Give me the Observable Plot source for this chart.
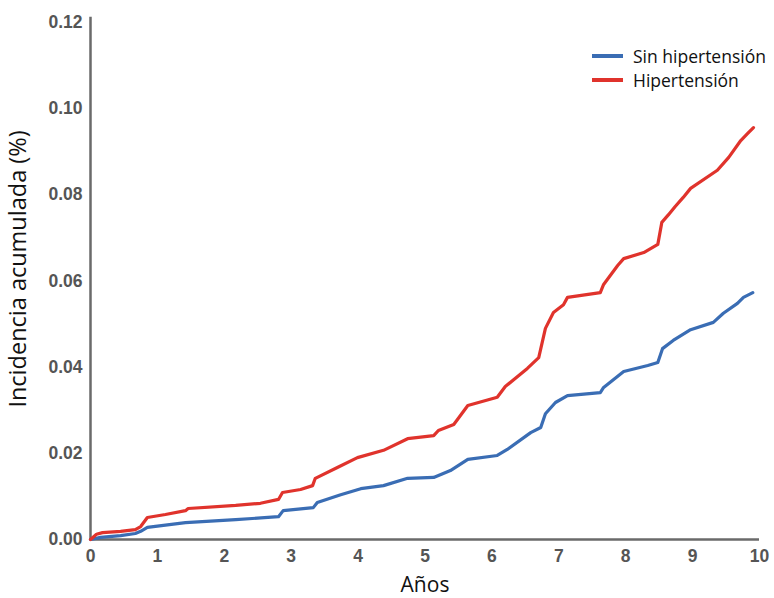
<!DOCTYPE html>
<html>
<head>
<meta charset="utf-8">
<script src="https://cdn.jsdelivr.net/npm/d3@7"></script>
<script src="https://cdn.jsdelivr.net/npm/@observablehq/plot@0.6"></script>
<style>
  body { margin: 0; background: #fff; }
  #wrap { position: relative; width: 774px; height: 598px; background: #fff; }
  #legend { position: absolute; left: 592px; top: 44px; font-family: "Open Sans", sans-serif; font-size: 17.5px; color: #111; line-height: 24px; }
  #legend .row { display: flex; align-items: center; white-space: nowrap; }
  #legend .sw { width: 31px; height: 3.5px; margin-right: 10px; }
</style>
</head>
<body>
<div id="wrap">
  <div id="chart"></div>
  <div id="legend"></div>
</div>
<script>
const seriesNames = ["Sin hipertensión", "Hipertensión"];
const seriesColors = ["#3a6db4", "#e0332c"];

const yearsSin = [0, 0.15, 0.45, 0.67, 0.75, 0.85, 1.42, 2.17, 2.81, 2.88, 3.33, 3.39, 3.74, 4.04, 4.38, 4.74, 5.13, 5.38, 5.64, 6.08, 6.23, 6.58, 6.73, 6.80, 6.95, 7.13, 7.62, 7.67, 7.97, 8.33, 8.48, 8.55, 8.71, 8.97, 9.31, 9.46, 9.67, 9.76, 9.90];
const incidSin = [0, 0.0005, 0.0009, 0.0014, 0.0019, 0.0028, 0.0039, 0.0046, 0.0053, 0.0067, 0.0074, 0.0086, 0.0104, 0.0118, 0.0125, 0.0142, 0.0144, 0.0160, 0.0186, 0.0195, 0.0209, 0.0248, 0.0260, 0.0292, 0.0318, 0.0334, 0.0341, 0.0353, 0.0390, 0.0404, 0.0411, 0.0443, 0.0462, 0.0487, 0.0504, 0.0525, 0.0548, 0.0562, 0.0573];

const yearsHip = [0, 0.09, 0.18, 0.45, 0.67, 0.75, 0.85, 1.12, 1.42, 1.46, 2.17, 2.54, 2.81, 2.87, 3.14, 3.32, 3.36, 3.69, 3.99, 4.38, 4.74, 5.13, 5.20, 5.43, 5.64, 6.08, 6.20, 6.53, 6.70, 6.80, 6.92, 7.07, 7.13, 7.62, 7.67, 7.88, 7.97, 8.27, 8.48, 8.54, 8.64, 8.74, 8.86, 8.97, 9.37, 9.54, 9.72, 9.82, 9.91];
const incidHip = [0, 0.0012, 0.0016, 0.0019, 0.0023, 0.0030, 0.0051, 0.0058, 0.0067, 0.0072, 0.0079, 0.0084, 0.0093, 0.0109, 0.0116, 0.0125, 0.0142, 0.0167, 0.0190, 0.0207, 0.0234, 0.0241, 0.0253, 0.0267, 0.0311, 0.0330, 0.0355, 0.0397, 0.0422, 0.0490, 0.0527, 0.0545, 0.0562, 0.0573, 0.0592, 0.0636, 0.0652, 0.0666, 0.0685, 0.0736, 0.0754, 0.0773, 0.0794, 0.0815, 0.0857, 0.0887, 0.0926, 0.0942, 0.0956];

const xTicks = [0, 1, 2, 3, 4, 5, 6, 7, 8, 9, 10];
const yTicks = [0, 0.02, 0.04, 0.06, 0.08, 0.10, 0.12];
const xLabel = "Años";
const yLabel = "Incidencia acumulada (%)";

const sinData = yearsSin.map((t, i) => ({t, v: incidSin[i]}));
const hipData = yearsHip.map((t, i) => ({t, v: incidHip[i]}));

const tickFont = {fontFamily: "'Liberation Sans', Arial, sans-serif", fontSize: 17.5, fontWeight: "bold", fill: "#555"};

const chart = Plot.plot({
  width: 774,
  height: 598,
  marginLeft: 90,
  marginRight: 15,
  marginTop: 22,
  marginBottom: 59,
  x: {domain: [0, 10]},
  y: {domain: [0, 0.12]},
  style: {background: "#fff", overflow: "visible"},
  marks: [
    Plot.axisY({ticks: yTicks, tickSize: 0, tickPadding: 8, tickFormat: d3.format(".2f"), label: null, ...tickFont}),
    Plot.axisX({ticks: xTicks, tickSize: 0, tickPadding: 10, tickFormat: d3.format("d"), label: null, ...tickFont}),
    Plot.ruleX([0], {stroke: "#6a6a6a", strokeWidth: 2.5, y1: 0, y2: 0.1212}),
    Plot.ruleY([0], {stroke: "#6a6a6a", strokeWidth: 2.5}),
    Plot.line(sinData, {x: "t", y: "v", stroke: seriesColors[0], strokeWidth: 3.2, strokeLinejoin: "round", strokeLinecap: "round"}),
    Plot.line(hipData, {x: "t", y: "v", stroke: seriesColors[1], strokeWidth: 3.2, strokeLinejoin: "round", strokeLinecap: "round"}),
    Plot.text([yLabel], {frameAnchor: "left", textAnchor: "middle", lineAnchor: "middle", text: d => d, rotate: -90, dx: -72, dy: -12, fontSize: 23.5, fontFamily: "'Open Sans', sans-serif", fill: "#111"}),
    Plot.text([xLabel], {frameAnchor: "bottom", textAnchor: "middle", lineAnchor: "middle", text: d => d, dy: 46, fontSize: 21, fontFamily: "'Open Sans', sans-serif", fill: "#111"})
  ]
});
document.getElementById("chart").appendChild(chart);

const legend = d3.select("#legend");
seriesNames.forEach((name, i) => {
  const row = legend.append("div").attr("class", "row");
  row.append("div").attr("class", "sw").style("background", seriesColors[i]);
  row.append("span").text(name);
});
</script>
</body>
</html>
